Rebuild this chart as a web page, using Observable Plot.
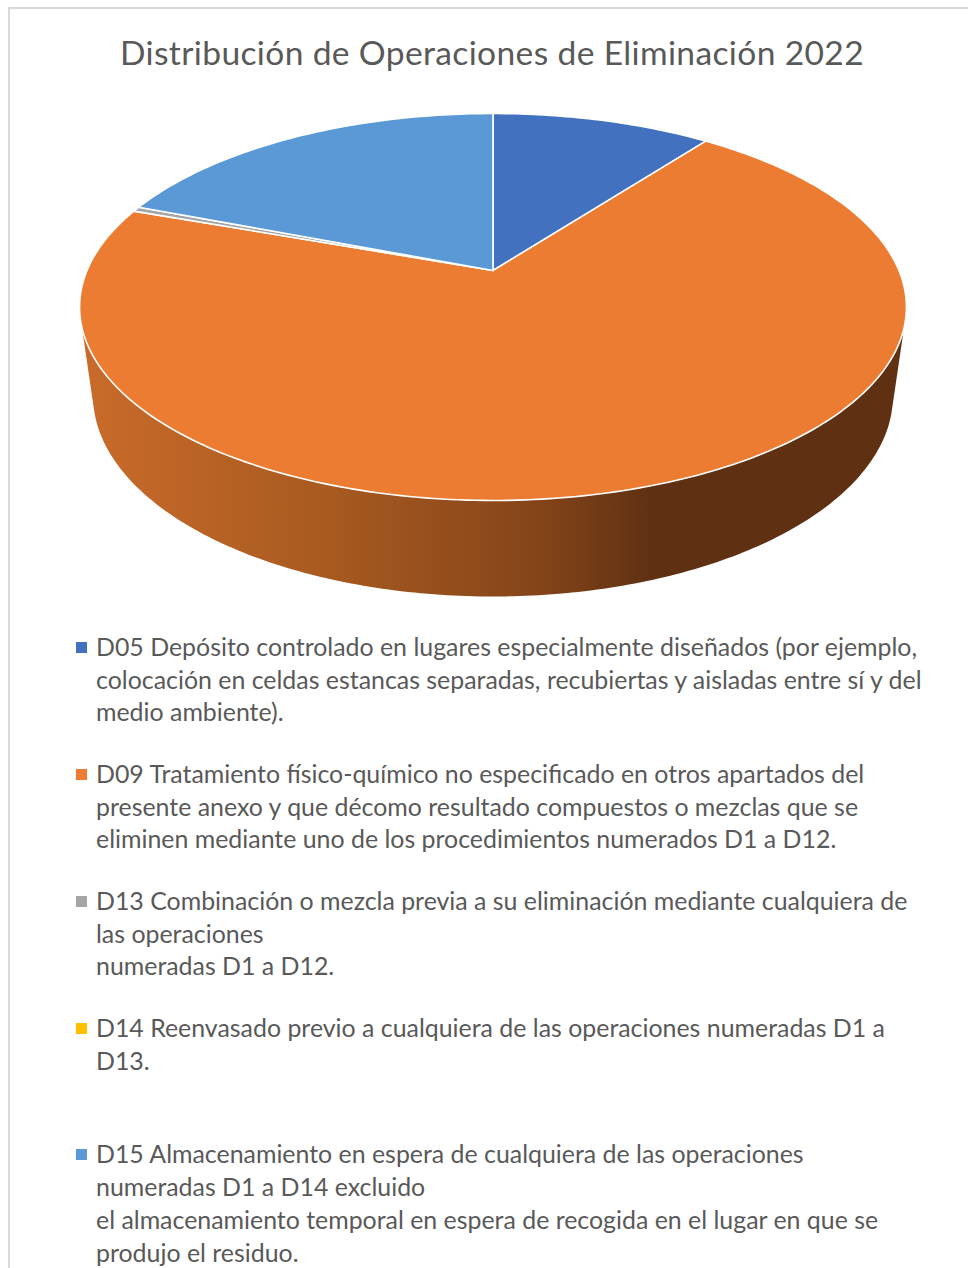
<!DOCTYPE html>
<html lang="es">
<head>
<meta charset="utf-8">
<script src="https://cdn.jsdelivr.net/npm/d3@7"></script>
<script src="https://cdn.jsdelivr.net/npm/@observablehq/plot@0.6"></script>
<style>
html,body{margin:0;padding:0;background:#fff;width:968px;height:1268px;overflow:hidden}
#frame{position:absolute;left:8px;top:7px;width:968px;height:1280px;border:2px solid #d9d9d9;box-sizing:border-box}
#title{position:absolute;left:0;width:984px;top:30px;text-align:center;font:400 33.6px/44px Lato,sans-serif;color:#595959;white-space:nowrap;letter-spacing:.35px}
#chart{position:absolute;left:0;top:100px}
#legend{position:absolute;left:0;top:630px;font:400 24.9px/32.5px Lato,sans-serif;color:#595959}
.entry{position:relative;padding-left:96px;margin-bottom:29.5px;white-space:nowrap}
.entry.gap{margin-top:60.5px;line-height:33px}
.swatch{position:absolute;left:76px;top:12px;width:11px;height:11px}
</style>
</head>
<body>
<div id="frame"></div>
<div id="title"></div>
<div id="chart"></div>
<div id="legend"></div>
<script>
const title = "Distribución de Operaciones de Eliminación 2022";
const categories = ["D05", "D09", "D13", "D14", "D15"];
const shares = [10.3, 70.2, 0.4, 0, 19.1];
const colors = ["#4271c0", "#eb7c31", "#a5a5a5", "#ffc000", "#5a99d5"];
const legendLines = [
  ["D05 Depósito controlado en lugares especialmente diseñados (por ejemplo,",
   "colocación en celdas estancas separadas, recubiertas y aisladas entre sí y del",
   "medio ambiente)."],
  ["D09 Tratamiento físico-químico no especificado en otros apartados del",
   "presente anexo y que décomo resultado compuestos o mezclas que se",
   "eliminen mediante uno de los procedimientos numerados D1 a D12."],
  ["D13 Combinación o mezcla previa a su eliminación mediante cualquiera de",
   "las operaciones",
   "numeradas D1 a D12."],
  ["D14 Reenvasado previo a cualquiera de las operaciones numeradas D1 a",
   "D13."],
  ["D15 Almacenamiento en espera de cualquiera de las operaciones",
   "numeradas D1 a D14 excluido",
   "el almacenamiento temporal en espera de recogida en el lugar en que se",
   "produjo el residuo."]
];
const wallStops = [[0, "#c96b2a"], [0.3, "#a85a20"], [0.55, "#854519"], [0.7, "#5f3012"], [1, "#5f3012"]];

// Perspective of the tilted disc: k is the foreshortening of near vs far.
const k = 0.1886;
const project = (a) => {
  const u = Math.sin(a), v = -Math.cos(a);
  return {x: u / (1 - k * v), y: v / (1 - k * v)};
};
const pie = d3.pie().sort(null).value((d) => d.share)(
  categories.map((category, i) => ({category, share: shares[i]}))
);
const slices = pie.filter((s) => s.data.share > 0).flatMap((s) => {
  const n = Math.max(2, Math.ceil((s.endAngle - s.startAngle) * 60));
  const pts = [{x: 0, y: 0, category: s.data.category}];
  for (let i = 0; i <= n; ++i) {
    pts.push({...project(s.startAngle + (s.endAngle - s.startAngle) * i / n), category: s.data.category});
  }
  return pts;
});

// Side wall, in the same plot units: the lower rim is a slightly smaller ellipse.
const rim = {rx: 1.0185, ry: 1.037, cy: 0.1956, tilt: 6.5 * Math.PI / 180};
const low = {rx: 0.9852, ry: 1.0772, cy: 0.6699, tilt: 5 * Math.PI / 180};
const arc = (e, t) => {
  const a = e.tilt + (Math.PI - 2 * e.tilt) * t;
  return {x: e.rx * Math.cos(a), y: e.cy + e.ry * Math.sin(a)};
};
const steps = d3.range(0, 181).map((i) => i / 180);
const wall = [...steps.map((t) => arc(rim, t)), ...steps.slice().reverse().map((t) => arc(low, t))];

const gradient = () => {
  const defs = d3.create("svg:defs");
  const g = defs.append("linearGradient").attr("id", "wallShade");
  wallStops.forEach(([o, c]) => g.append("stop").attr("offset", o).attr("stop-color", c));
  return defs.node();
};

const chart = Plot.plot({
  width: 968,
  height: 510,
  margin: 0,
  style: {background: "transparent"},
  x: {domain: [-1, 1], range: [86.5, 898.5], axis: null},
  y: {domain: [-1, 1], range: [-16.6, 356.6], axis: null},
  color: {domain: categories, range: colors},
  marks: [
    gradient,
    Plot.line(wall, {x: "x", y: "y", fill: "url(#wallShade)", stroke: "none", curve: "linear-closed"}),
    Plot.line(slices, {x: "x", y: "y", z: "category", fill: "category", stroke: "white",
      strokeWidth: 1.6, strokeLinejoin: "round", curve: "linear-closed"})
  ]
});
document.getElementById("chart").append(chart);
document.getElementById("title").textContent = title;

const legend = d3.select("#legend");
legendLines.forEach((lines, i) => {
  const e = legend.append("div").attr("class", "entry" + (i === 4 ? " gap" : ""));
  e.append("span").attr("class", "swatch").style("background", colors[i]);
  lines.forEach((line) => e.append("div").text(line));
});
</script>
</body>
</html>
